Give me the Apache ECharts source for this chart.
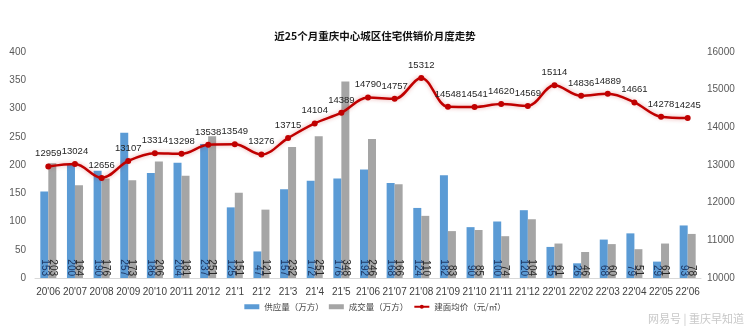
<!DOCTYPE html>
<html>
<head>
<meta charset="utf-8">
<script src="https://cdn.jsdelivr.net/npm/echarts@6/dist/echarts.min.js"></script>
<style>html,body{margin:0;padding:0;background:#fff;}#c{width:750px;height:330px;}</style>
</head>
<body>
<div id="c"></div>
<script>
const categories = ["20'06","20'07","20'08","20'09","20'10","20'11","20'12","21'1","21'2","21'3","21'4","21'5","21'06","21'07","21'08","21'09","21'10","21'11","21'12","22'01","22'02","22'03","22'04","22'05","22'06"];
const supply = [153,200,190,257,186,204,237,125,47,157,172,176,192,168,124,182,90,100,120,55,26,68,79,29,93];
const deals = [203,164,176,173,206,181,251,151,121,232,251,348,246,166,110,83,85,74,104,61,46,60,51,61,78];
const price = [12959,13024,12656,13107,13314,13298,13538,13549,13276,13715,14104,14389,14790,14757,15312,14548,14541,14620,14569,15114,14836,14889,14661,14278,14245];
const leftTicks = {min:0, max:400, interval:50};
const rightTicks = {min:10000, max:16000, interval:1000};

const chart = echarts.init(document.getElementById('c'), null, {renderer:'canvas'});
const font = '"Liberation Sans", "Noto Sans CJK SC", sans-serif';
const cjk = '"Noto Sans CJK SC", sans-serif';
chart.setOption({
  animation:false,
  textStyle:{fontFamily:font},
  title:{text:'近25个月重庆中心城区住宅供销价月度走势', left:'center', top:26,
    textStyle:{fontSize:10.5, fontWeight:'bold', color:'#111', fontFamily:cjk}},
  grid:{left:35, right:49, top:52, bottom:52},
  legend:{bottom:14, left:'center', itemWidth:15, itemHeight:5, itemGap:5,
    textStyle:{fontSize:8.5, color:'#444', fontFamily:cjk},
    data:[{name:'供应量（万方）', icon:'rect'},{name:'成交量（万方）', icon:'rect'},{name:'建面均价（元/㎡）'}]},
  xAxis:{type:'category', data:categories,
    axisLine:{lineStyle:{color:'#d9d9d9'}}, axisTick:{show:false},
    axisLabel:{fontSize:10, color:'#404040', interval:0, margin:9, fontFamily:font}},
  yAxis:[
    {type:'value', min:leftTicks.min, max:leftTicks.max, interval:leftTicks.interval,
      splitLine:{show:false}, axisLine:{show:false}, axisTick:{show:false},
      axisLabel:{fontSize:10, color:'#595959', margin:9, fontFamily:font}},
    {type:'value', min:rightTicks.min, max:rightTicks.max, interval:rightTicks.interval,
      splitLine:{show:false}, axisLine:{show:false}, axisTick:{show:false},
      axisLabel:{fontSize:10, color:'#595959', margin:6, fontFamily:font, formatter:v => String(v)}}
  ],
  series:[
    {name:'供应量（万方）', type:'bar', data:supply, barWidth:8, barGap:'0%',
      itemStyle:{color:'#5b9bd5'},
      label:{show:true, position:'insideBottom', rotate:-90, align:'right', verticalAlign:'middle',
        distance:2, fontSize:10, color:'#1f3864', fontFamily:font}},
    {name:'成交量（万方）', type:'bar', data:deals, barWidth:8,
      itemStyle:{color:'#a5a5a5'},
      label:{show:true, position:'insideBottom', rotate:-90, align:'right', verticalAlign:'middle',
        distance:2, fontSize:10, color:'#262626', fontFamily:font}},
    {name:'建面均价（元/㎡）', type:'line', yAxisIndex:1, data:price, smooth:0.35,
      symbol:'circle', symbolSize:6,
      lineStyle:{color:'#c00000', width:2.5, shadowColor:'rgba(192,0,0,0.35)', shadowBlur:4},
      itemStyle:{color:'#c00000'},
      label:{show:true, position:'top', distance:5, fontSize:9.5, color:'#262626', fontFamily:font,
        formatter:p => String(p.value)}}
  ],
  graphic:[{type:'text', right:6, bottom:6,
    style:{text:'网易号 | 重庆早知道', fontSize:11, fill:'#c8c8c8', fontFamily:cjk}}]
});
</script>
</body>
</html>
